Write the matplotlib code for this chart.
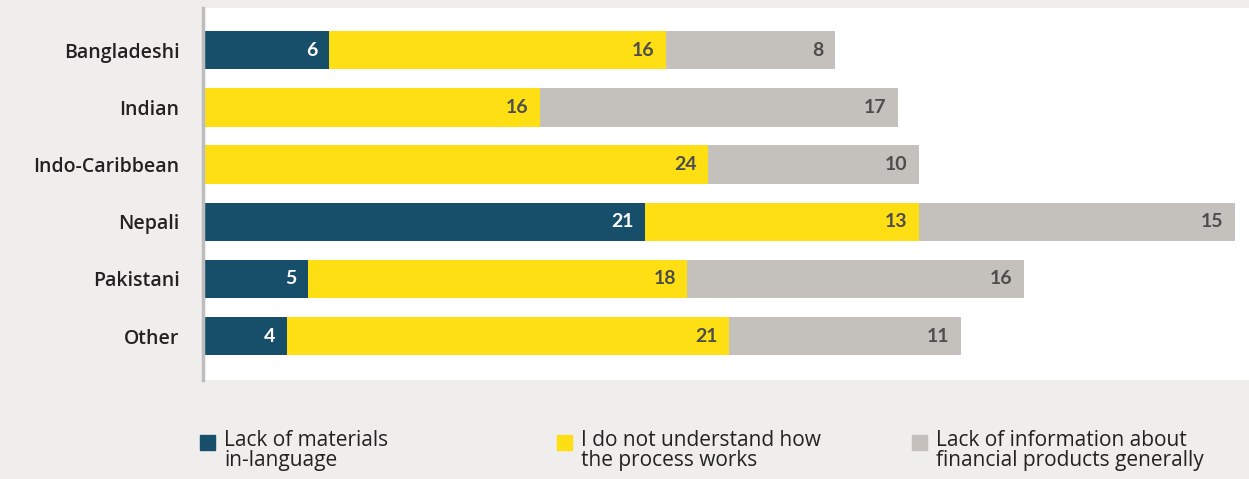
import matplotlib.pyplot as plt
import numpy as np

categories = ["Bangladeshi", "Indian", "Indo-Caribbean", "Nepali", "Pakistani", "Other"]
lack_materials = [6, 0, 0, 21, 5, 4]
not_understand = [16, 16, 24, 13, 18, 21]
lack_info = [8, 17, 10, 15, 16, 11]
series_names = ["Lack of materials\nin-language",
                "I do not understand how\nthe process works",
                "Lack of information about\nfinancial products generally"]
colors = ["#174f6b", "#fddf14", "#c4c0bb"]
text_colors = ["white", "#4d4d4d", "#4d4d4d"]

plt.rcParams["font.family"] = ["Open Sans", "DejaVu Sans"]

fig = plt.figure(figsize=(12.49, 4.79), dpi=100)
fig.patch.set_facecolor("#efeeec")
ax = fig.add_axes([203 / 1249, 1 - 380 / 479, 1 - 203 / 1249, 372 / 479])
ax.set_facecolor("white")

y = np.arange(len(categories))
left = np.zeros(len(categories))
for vals, c, tc in zip([lack_materials, not_understand, lack_info], colors, text_colors):
    vals = np.array(vals)
    ax.barh(y, vals, left=left, color=c, height=0.67)
    for yi, l, v in zip(y, left, vals):
        if v > 0:
            ax.text(l + v - 0.55, yi, str(v), ha="right", va="center",
                    color=tc, fontsize=14, fontweight="bold", family=["Lato", "DejaVu Sans"])
    left += vals

ax.set_xlim(0, 49.67)
ax.set_ylim(5.77, -0.74)
ax.set_yticks(y)
ax.set_yticklabels(categories, fontsize=14, fontweight="semibold", color="#222222")
ax.tick_params(axis="y", length=0, pad=17)
ax.set_xticks([])
for s in ["top", "right", "bottom"]:
    ax.spines[s].set_visible(False)
ax.spines["left"].set_color("#bdbdbd")
ax.spines["left"].set_linewidth(2.5)

leg_x = [200, 557, 912]
for x, name, c in zip(leg_x, series_names, colors):
    fig.patches.append(plt.Rectangle((x / 1249, 1 - 450 / 479), 15 / 1249, 15 / 479,
                                     color=c, transform=fig.transFigure))
    fig.text((x + 24) / 1249, 1 - 430 / 479, name, ha="left", va="top",
             fontsize=15, color="#222222", linespacing=0.95)

fig.savefig("out.png", dpi=100, facecolor=fig.get_facecolor())
